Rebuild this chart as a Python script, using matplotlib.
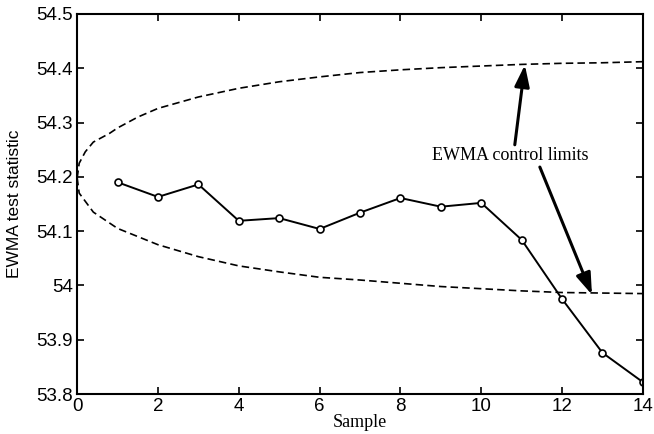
import matplotlib
matplotlib.use("Agg")
import matplotlib.pyplot as plt

# EWMA statistic per sample
sample = [1, 2, 3, 4, 5, 6, 7, 8, 9, 10, 11, 12, 13, 14]
ewma = [54.190, 54.163, 54.186, 54.119, 54.124, 54.104, 54.134,
        54.161, 54.145, 54.152, 54.084, 53.975, 53.876, 53.822]

# control limits
limit_x = [0, 0.05, 0.2, 0.4, 0.8, 1, 1.5, 2, 3, 4, 5, 6, 7, 8, 9, 10, 11, 12, 13, 14]
upper = [54.198, 54.225, 54.246, 54.264, 54.280, 54.290, 54.310, 54.326, 54.347,
         54.363, 54.375, 54.384, 54.392, 54.397, 54.401, 54.404, 54.407, 54.409,
         54.410, 54.412]
lower = [54.198, 54.170, 54.155, 54.135, 54.115, 54.105, 54.090, 54.075, 54.053,
         54.036, 54.025, 54.015, 54.010, 54.004, 53.998, 53.994, 53.990, 53.987,
         53.986, 53.985]

sans = "Liberation Sans"
serif = "Liberation Serif"

fig = plt.figure(figsize=(6.54, 4.34), dpi=100)
ax = fig.add_axes([0.118, 0.092, 0.865, 0.876])

ax.plot(limit_x, upper, color="black", linestyle="--", linewidth=1.2, dashes=(4.5, 2.5))
ax.plot(limit_x, lower, color="black", linestyle="--", linewidth=1.2, dashes=(4.5, 2.5))
ax.plot(sample, ewma, color="black", linewidth=1.4, marker="o", markersize=5,
        markerfacecolor="white", markeredgecolor="black", markeredgewidth=1.2)

ax.set_xlim(0, 14)
ax.set_ylim(53.8, 54.5)
ax.set_xticks([0, 2, 4, 6, 8, 10, 12, 14])
ax.set_yticks([53.8, 53.9, 54.0, 54.1, 54.2, 54.3, 54.4, 54.5])
ax.set_yticklabels(["53.8", "53.9", "54", "54.1", "54.2", "54.3", "54.4", "54.5"])
ax.tick_params(direction="in", top=True, right=True, length=5, width=1.2,
               labelsize=13.5, pad=3)
for lab in ax.get_xticklabels() + ax.get_yticklabels():
    lab.set_family(sans)
for sp in ax.spines.values():
    sp.set_linewidth(1.5)

ax.set_xlabel("Sample", fontsize=13, family=serif)
ax.set_ylabel("EWMA test statistic", fontsize=12.5, family=sans)
ax.xaxis.set_label_coords(0.5, -0.052)
ax.yaxis.set_label_coords(-0.098, 0.5)

ax.text(10.71, 54.24, "EWMA control limits", fontsize=13, family=serif,
        ha="center", va="center")
arrow = dict(arrowstyle="-|>,head_length=1.3,head_width=0.45", color="black",
             linewidth=2.2, shrinkA=0, shrinkB=0)
ax.annotate("", xy=(11.08, 54.406), xytext=(10.83, 54.259), arrowprops=arrow)
ax.annotate("", xy=(12.74, 53.983), xytext=(11.45, 54.218), arrowprops=arrow)

fig.savefig("out.png", dpi=100)
